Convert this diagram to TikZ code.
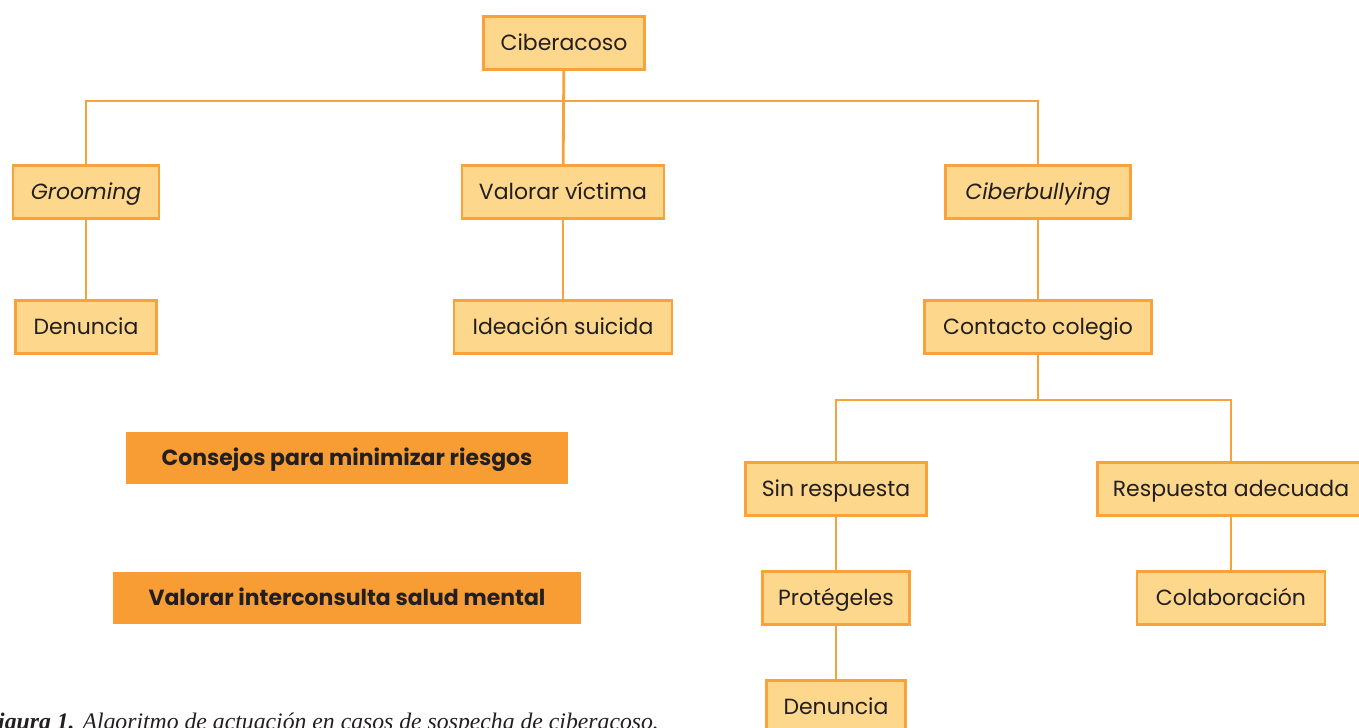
\documentclass[tikz,border=0pt]{standalone}
\usepackage{fontspec}
\setmainfont{Liberation Serif}
\setsansfont{Poppins}
\usepackage{tikz}
\usetikzlibrary{calc}
\definecolor{boxfill}{HTML}{FDD78C}
\definecolor{boxline}{HTML}{F7A23B}
\definecolor{keyfill}{HTML}{F79D34}
\definecolor{ink}{HTML}{231F20}
\tikzset{
	box/.style={draw=boxline, fill=boxfill, line width=1.6pt, minimum height=30pt,
		inner xsep=8pt, text height=11pt, text depth=2.2pt, text=ink,
		font=\sffamily\fontsize{12.5}{14}\selectfont},
	keybox/.style={fill=keyfill, minimum height=30pt, text height=11pt, text depth=2.2pt,
		text=ink, font=\sffamily\bfseries\fontsize{12.5}{14}\selectfont},
	link/.style={draw=boxline, line width=1.6pt}
}

\begin{document}
\begin{tikzpicture}[x=0.02cm, y=-0.02cm]
\useasboundingbox (0,0) rectangle (1359,727);

\node[box, minimum width=92pt] (cib) at (564,43) {Ciberacoso};

\node[box, minimum width=83pt] (groom) at (86,192) {\itshape Grooming};
\node[box, minimum width=115pt] (valor) at (563,192) {Valorar víctima};
\node[box, minimum width=105pt] (cbully) at (1038,192) {\itshape Ciberbullying};

\node[box, minimum width=80pt] (den1) at (86,327) {Denuncia};
\node[box, minimum width=124pt] (idea) at (563,327) {Ideación suicida};
\node[box, minimum width=129pt] (cole) at (1038,327) {Contacto colegio};

\node[box, minimum width=103pt] (sinr) at (836,489) {Sin respuesta};
\node[box, minimum width=152pt] (resp) at (1231,489) {Respuesta adecuada};
\node[box, minimum width=84pt] (prot) at (836,598) {Protégeles};
\node[box, minimum width=107pt] (colab) at (1231,598) {Colaboración};
\node[box, minimum width=79pt] (den2) at (836,707) {Denuncia};

\node[keybox, minimum width=252pt] (tips) at (347,458) {Consejos para minimizar riesgos};
\node[keybox, minimum width=266pt] (mental) at (347,598) {Valorar interconsulta salud mental};

\coordinate (split) at (564,101);
\coordinate (fork) at (1038,400);

\draw[link] (cib) -- (valor);
\draw[link] (groom) |- (split) -| (cbully);
\draw[link] (groom) -- (den1);
\draw[link] (valor) -- (idea);
\draw[link] (cbully) -- (cole);
\draw[link] (cole) -- (fork);
\draw[link] (sinr) |- (fork) -| (resp);
\draw[link] (sinr) -- (prot);
\draw[link] (prot) -- (den2);
\draw[link] (resp) -- (colab);

\node[anchor=base west, inner sep=0pt, text=ink, font=\fontsize{13.5}{15}\selectfont\itshape] (cap) at (-18,729)
	{\textbf{Figura 1.} Algoritmo de actuación en casos de sospecha de ciberacoso.};
\end{tikzpicture}
\end{document}
